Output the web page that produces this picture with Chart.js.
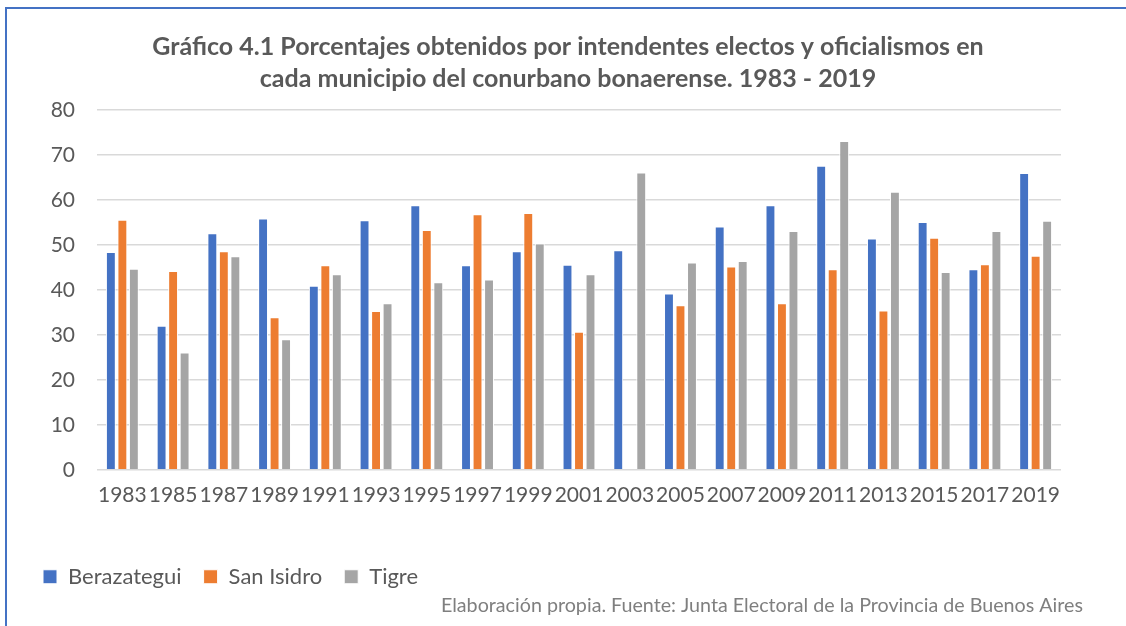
<!DOCTYPE html>
<html>
<head>
<meta charset="utf-8">
<script src="https://cdn.jsdelivr.net/npm/chart.js@4"></script>
<style>
  body { margin: 0; background: #fff; }
  #wrap { position: relative; width: 1126px; height: 626px; overflow: hidden; }
  #frame { position: absolute; left: 5px; top: 7px; width: 1200px; height: 700px;
           border-top: 2px solid #4472C4; border-left: 2px solid #4472C4; }
  #myChart { position: absolute; left: 0; top: 0; }
</style>
</head>
<body>
<div id="wrap">
  <div id="frame"></div>
  <canvas id="myChart" width="1126" height="626"></canvas>
</div>
<script>

const years = ['1983','1985','1987','1989','1991','1993','1995','1997','1999','2001',
               '2003','2005','2007','2009','2011','2013','2015','2017','2019'];

const berazategui = [48.4, 32.0, 52.6, 55.9, 40.9, 55.5, 58.8, 45.5, 48.6, 45.6,
                     48.8, 39.2, 54.1, 58.8, 67.6, 51.4, 55.1, 44.6, 66.0];
const sanIsidro   = [55.6, 44.2, 48.6, 33.9, 45.5, 35.3, 53.3, 56.8, 57.1, 30.7,
                     null, 36.6, 45.2, 37.0, 44.6, 35.4, 51.6, 45.7, 47.6];
const tigre       = [44.7, 26.1, 47.5, 29.0, 43.5, 37.0, 41.7, 42.3, 50.3, 43.5,
                     66.1, 46.1, 46.4, 53.1, 73.1, 61.8, 44.0, 53.1, 55.4];

const seriesNames = ['Berazategui', 'San Isidro', 'Tigre'];
const arrColors = ['#4472C4', '#ED7D31', '#A5A5A5'];

const titleLines = ['Gráfico 4.1 Porcentajes obtenidos por intendentes electos y oficialismos en',
                    'cada municipio del conurbano bonaerense. 1983 - 2019'];
const sourceText = 'Elaboración propia. Fuente: Junta Electoral de la Provincia de Buenos Aires';

const yTicks = [0, 10, 20, 30, 40, 50, 60, 70, 80];

var fontFam = 'Lato, "Open Sans", sans-serif';
var textColor = '#595959';

var data = {
    labels: years,
    datasets: [berazategui, sanIsidro, tigre].map((vals, i) => ({
        label: seriesNames[i],
        data: vals,
        backgroundColor: arrColors[i],
        borderColor: '#ffffff',
        borderWidth: 1,
        categoryPercentage: 0.68,
        barPercentage: 0.86,
    }))
};

// the title in the original is centred a bit right of the canvas middle
const titleShift = {
    id: 'titleShift',
    afterLayout(chart) {
        chart.titleBlock.left = 53;
    }
};

var config = {
    type: 'bar',
    data: data,
    plugins: [titleShift],
    options: {
        responsive: false,
        animation: false,
        layout: { padding: { left: 21, right: 43, top: 0, bottom: 0 } },
        scales: {
            x: {
                grid: { display: false, drawTicks: false },
                border: { display: false },
                afterFit: (scale) => { scale.height = 74; },
                ticks: { color: textColor, font: { family: fontFam, size: 21 }, padding: 13,
                         maxRotation: 0, autoSkip: false }
            },
            y: {
                min: 0,
                max: 80,
                afterBuildTicks: (scale) => { scale.ticks = yTicks.map(v => ({ value: v })); },
                afterFit: (scale) => { scale.width = 76; },
                grid: { color: '#D9D9D9', lineWidth: 1.5, drawTicks: false },
                border: { display: false },
                ticks: { color: textColor, font: { family: fontFam, size: 21 }, padding: 22 }
            },
            yRight: {
                position: 'right',
                display: true,
                grid: { display: false, drawTicks: false },
                border: { display: false },
                ticks: { display: false },
                afterFit: (scale) => { scale.width = 22; }
            }
        },
        plugins: {
            title: {
                display: true,
                text: titleLines,
                color: textColor,
                font: { family: fontFam, size: 25, weight: 'bold', lineHeight: 1.28 },
                padding: { top: 31, bottom: 15 }
            },
            subtitle: {
                display: true,
                position: 'bottom',
                align: 'end',
                text: sourceText,
                color: '#7F7F7F',
                font: { family: fontFam, size: 19.7 },
                padding: { top: -4.4, bottom: 9 }
            },
            legend: {
                position: 'bottom',
                align: 'start',
                labels: {
                    color: textColor,
                    font: { family: fontFam, size: 22 },
                    boxWidth: 14,
                    boxHeight: 14,
                    padding: 22
                }
            },
            tooltip: { enabled: false }
        }
    }
};

let myChart = new Chart(document.getElementById('myChart'), config);
</script>
</body>
</html>
